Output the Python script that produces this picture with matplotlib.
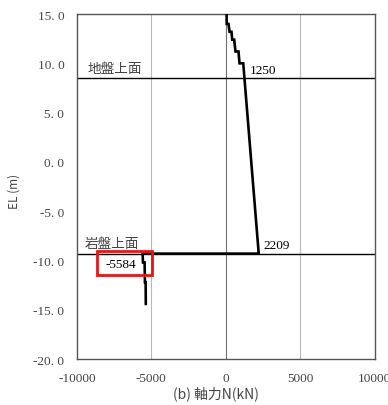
import matplotlib
matplotlib.use("Agg")
import matplotlib.pyplot as plt
from matplotlib.patches import Rectangle

# axial force distribution (kN) vs elevation (m)
upper_el = [15.0, 14.0, 14.0, 13.2, 13.2, 12.4, 12.4, 11.2, 11.2, 10.0, 10.0, 8.5, -9.3]
upper_n = [50, 60, 180, 250, 380, 430, 560, 650, 850, 920, 1170, 1250, 2209]
lower_el = [-9.3, -10.2, -10.2, -12.2, -12.2, -14.4]
lower_n = [-5584, -5560, -5450, -5430, -5380, -5370]

ground_el = 8.5
rock_el = -9.3
ground_label = "地盤上面"
rock_label = "岩盤上面"
peak_labels = [(1250, 9.35), (2209, -8.45), (-5584, -10.4)]

yticks = [15.0, 10.0, 5.0, 0.0, -5.0, -10.0, -15.0, -20.0]
xticks = [-10000, -5000, 0, 5000, 10000]

JP = ["Noto Sans CJK JP", "DejaVu Sans"]
SERIF = ["Liberation Serif", "DejaVu Serif"]
GRAY = "#444444"

fig = plt.figure(figsize=(3.88, 4.06), dpi=100)
ax = fig.add_axes([0.198, 0.113, 0.768, 0.85])

ax.set_xlim(-10000, 10000)
ax.set_ylim(-20, 15)
ax.set_xticks(xticks)
ax.set_yticks(yticks)
ax.set_xticklabels([str(v) for v in xticks], family=SERIF, fontsize=9.5, color=GRAY)
ax.set_yticklabels([f"{v:.1f}".replace(".", ". ") for v in yticks],
                   family=SERIF, fontsize=9.5, color=GRAY)
ax.tick_params(length=0, pad=9)

for v in [-5000, 5000]:
    ax.axvline(v, color="#b8b8b8", lw=0.8, zorder=1)
ax.axvline(0, color="#707070", lw=0.8, zorder=1)
ax.axhline(ground_el, color="black", lw=1.0, zorder=2)
ax.axhline(rock_el, color="black", lw=1.0, zorder=2)

for s in ax.spines.values():
    s.set_color("#555555")
    s.set_linewidth(1.0)

n_all = upper_n + lower_n
el_all = upper_el + lower_el
ax.plot(n_all, el_all, color="black", lw=1.9, zorder=3, solid_joinstyle="miter")

ax.text(-9300, ground_el + 0.35, ground_label, family=JP, fontsize=9.8, color=GRAY, va="bottom")
ax.text(-9500, rock_el + 0.35, rock_label, family=JP, fontsize=9.8, color=GRAY, va="bottom")

ax.text(1600, peak_labels[0][1], str(peak_labels[0][0]), family=SERIF, fontsize=9.5, va="center")
ax.text(2500, peak_labels[1][1], str(peak_labels[1][0]), family=SERIF, fontsize=9.5, va="center")
ax.text(-6000, peak_labels[2][1], str(peak_labels[2][0]), family=SERIF, fontsize=9.5,
        va="center", ha="right")
ax.add_patch(Rectangle((-8650, -11.45), 3680, 2.4, fill=False, edgecolor="#e8141a",
                       lw=2.0, zorder=5, clip_on=False))

ax.set_ylabel("EL (m)", family=JP, fontsize=8.5, color=GRAY)
ax.yaxis.set_label_coords(-0.19, 0.49)
ax.set_xlabel("(b) 軸力N(kN)", family=JP, fontsize=10, color=GRAY)
ax.xaxis.set_label_coords(0.466, -0.075)

fig.savefig("out.png", dpi=100)
